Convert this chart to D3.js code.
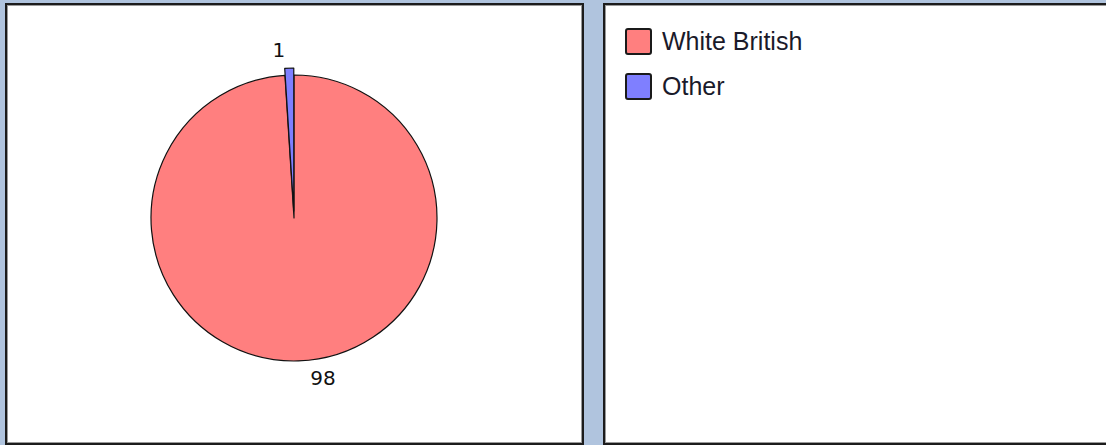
<!DOCTYPE html>
<html><head><meta charset="utf-8">
<script src="https://cdn.jsdelivr.net/npm/d3@7"></script>
<style>
html,body{margin:0;padding:0;background:#B0C4DE;overflow:hidden;}
svg{display:block;}
</style></head>
<body>
<svg id="c" width="1106" height="445"></svg>
<script>
const categories = ["White British", "Other"];
const values = [98, 1];
const colors = ["#FF7F7F", "#7F7FFF"];
const explode = [0, 7];

const W = 1106, H = 445;
const svg = d3.select("#c");
svg.append("rect").attr("width", W).attr("height", H).attr("fill", "#B0C4DE");

function panel(x, y, w, h) {
  svg.append("rect").attr("x", x + 1).attr("y", y + 1).attr("width", w - 2).attr("height", h - 2)
    .attr("fill", "#fff").attr("stroke", "#1c1c1c").attr("stroke-width", 2);
  svg.append("rect").attr("x", x + 2.5).attr("y", y + 2.5).attr("width", w - 5).attr("height", h - 5)
    .attr("fill", "none").attr("stroke", "#9a9a9a").attr("stroke-width", 1);
}
panel(5, 3, 579, 442);
panel(603, 3, 520, 442);

// Pie
const cx = 294, cy = 218, r = 143;
const pie = d3.pie().sort(null).value(d => d)(values);
const arc = d3.arc().innerRadius(0).outerRadius(r);
const g = svg.append("g").attr("transform", `translate(${cx},${cy})`);
g.selectAll("path").data(pie).join("path")
  .attr("d", arc)
  .attr("transform", (d, i) => {
    const a = (d.startAngle + d.endAngle) / 2;
    return `translate(${Math.sin(a) * explode[i]},${-Math.cos(a) * explode[i]})`;
  })
  .attr("fill", (d, i) => colors[i])
  .attr("stroke", "#111").attr("stroke-width", 1.2).attr("stroke-linejoin", "round");

// labels
const lr = r + 16;
g.selectAll("text").data(pie).join("text")
  .attr("x", (d, i) => {
    const a = (d.startAngle + d.endAngle) / 2;
    return Math.sin(a) * lr + (i === 0 ? 24 : -10);
  })
  .attr("y", (d, i) => {
    const a = (d.startAngle + d.endAngle) / 2;
    return -Math.cos(a) * lr + (i === 0 ? 1 : -9);
  })
  .attr("text-anchor", "middle")
  .attr("dominant-baseline", "central")
  .attr("font-family", "DejaVu Sans, sans-serif")
  .attr("font-size", 20)
  .attr("fill", "#111")
  .text((d, i) => values[i]);

// Legend
const leg = svg.append("g").attr("transform", "translate(626,29)");
const items = leg.selectAll("g").data(categories).join("g")
  .attr("transform", (d, i) => `translate(0,${i * 45})`);
items.append("rect").attr("width", 25).attr("height", 25).attr("rx", 2)
  .attr("fill", (d, i) => colors[i]).attr("stroke", "#1a1a1a").attr("stroke-width", 2);
items.append("text").attr("x", 36).attr("y", 21)
  .attr("font-family", "Liberation Sans, Arial, sans-serif").attr("font-size", 25)
  .attr("fill", "#1a1a2a").text(d => d);
</script>
</body></html>
